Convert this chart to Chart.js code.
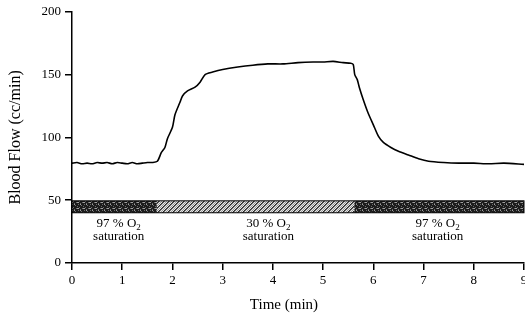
<!DOCTYPE html>
<html><head><meta charset="utf-8">
<script src="https://cdn.jsdelivr.net/npm/chart.js@4"></script>
<style>html,body{margin:0;padding:0;background:#fff}#c{display:block}</style>
</head><body>
<canvas id="c" width="525" height="317"></canvas>
<script>
// ---- data ----
const timeMin = [0,0.1,0.2,0.3,0.4,0.5,0.6,0.7,0.8,0.9,1.0,1.1,1.2,1.3,1.4,1.5,1.6,1.7,1.78,1.85,1.9,2.0,2.05,2.15,2.2,2.3,2.45,2.55,2.65,2.8,3.0,3.3,3.6,3.9,4.2,4.5,4.8,5.0,5.2,5.4,5.55,5.6,5.63,5.68,5.72,5.8,5.9,6.0,6.1,6.2,6.35,6.5,6.7,6.9,7.1,7.4,7.7,8.0,8.3,8.6,9.0];
const bloodFlow = [79.5,80,79,79.5,79,80,79.5,80,79,80,79.5,79,80,79,79.5,80,80,81,88,92,99,108,118,128,133,137,140,144,150,152,154,156,157.5,158.5,158.5,159.5,160,160,160.5,159.5,159,158,150,146,140,130,119,110,101,96,92,89,86,83,81,80,79.5,79.5,79,79.5,78.5];
const xTicks = [0,1,2,3,4,5,6,7,8,9];
const yTicks = [0,50,100,150,200];
const segStart = [0,1.69,5.62];
const segEnd = [1.69,5.62,9];
const segTop = 49.5;
const segBottom = 40;
const segPercent = ["97 %","30 %","97 %"];
const segLabelX = [0.93,3.91,7.28];
const segLabelY = [31,21];   // rows: "xx % O2", "saturation"
const xTitle = "Time (min)";
const yTitle = "Blood Flow (cc/min)";

// ---- patterns ----
function makeDark(g0){
  const c=document.createElement('canvas');c.width=6;c.height=6;const g=c.getContext('2d');
  g.fillStyle='#1c1c1c';g.fillRect(0,0,6,6);
  g.fillStyle='#6a6a6a';
  [[0,0],[3,1],[1,3],[4,4],[2,5],[5,2]].forEach(p=>g.fillRect(p[0],p[1],1,1));
  g.fillStyle='#a0a0a0';
  [[2,0],[5,4],[0,4]].forEach(p=>g.fillRect(p[0],p[1],1,1));
  return g0.createPattern(c,'repeat');
}
function makeHatch(g0){
  const c=document.createElement('canvas');c.width=5;c.height=5;const g=c.getContext('2d');
  g.fillStyle='#e6e6e6';g.fillRect(0,0,5,5);
  for(let i=0;i<5;i++){
    g.fillStyle='#2a2a2a';g.fillRect((4-i+5)%5,i,1,1);
    g.fillStyle='#6e6e6e';g.fillRect((5-i+5)%5,i,1,1);
    g.fillStyle='#9a9a9a';g.fillRect((7-i+5)%5,i,1,1);
  }
  return g0.createPattern(c,'repeat');
}

const serif='"Liberation Serif", "Times New Roman", serif';

const barPlugin={
  id:'oxyBar',
  beforeDatasetsDraw(chart){
    const g=chart.ctx, xs=chart.scales.x, ys=chart.scales.y;
    const pats=[makeDark(g),makeHatch(g),makeDark(g)];
    const yT=ys.getPixelForValue(segTop), yB=ys.getPixelForValue(segBottom);
    g.save();
    segStart.forEach((s,i)=>{
      const x1=xs.getPixelForValue(s), x2=xs.getPixelForValue(segEnd[i]);
      g.fillStyle=pats[i];
      g.fillRect(x1,yT,x2-x1,yB-yT);
    });
    g.strokeStyle='#000';g.lineWidth=1;
    const xa=xs.getPixelForValue(segStart[0]), xb=xs.getPixelForValue(segEnd[segEnd.length-1]);
    g.strokeRect(xa,yT,xb-xa,yB-yT);
    g.restore();
  },
  afterDatasetsDraw(chart){
    const g=chart.ctx, xs=chart.scales.x, ys=chart.scales.y;
    g.save();
    g.fillStyle='#000';
    g.textBaseline='middle';
    segPercent.forEach((p,i)=>{
      const cx=xs.getPixelForValue(segLabelX[i]);
      const y1=ys.getPixelForValue(segLabelY[0]);
      const y2=ys.getPixelForValue(segLabelY[1]);
      g.font='13px '+serif;
      const main=p+' O';
      const w1=g.measureText(main).width;
      g.font='9px '+serif;
      const w2=g.measureText('2').width;
      const x0=cx-(w1+w2)/2;
      g.font='13px '+serif;
      g.textAlign='left';
      g.fillText(main,x0,y1);
      g.font='9px '+serif;
      g.fillText('2',x0+w1,y1+4);
      g.font='13px '+serif;
      g.textAlign='center';
      g.fillText('saturation',cx,y2);
    });
    g.font='15px '+serif;
    g.textAlign='center';
    g.fillText(xTitle, xs.getPixelForValue(4.22), 305);
    g.restore();
  }
};

new Chart(document.getElementById('c'),{
  type:'line',
  data:{datasets:[
    {data:timeMin.map((t,i)=>({x:t,y:bloodFlow[i]})),borderColor:'#000',borderWidth:1.6,pointRadius:0,tension:0.25,fill:false}
  ]},
  options:{
    responsive:false,animation:false,
    layout:{padding:{top:9,right:1,left:0,bottom:0}},
    plugins:{legend:{display:false},tooltip:{enabled:false}},
    scales:{
      x:{type:'linear',min:0,max:9,
        afterBuildTicks(s){s.ticks=xTicks.map(v=>({value:v}));},
        afterFit(s){s.height=54;s.paddingLeft=0;s.paddingRight=0;},
        grid:{drawOnChartArea:false,drawTicks:true,tickLength:7,color:'#000',lineWidth:1.5},
        border:{display:true,color:'#000',width:1.5},
        ticks:{color:'#000',font:{family:serif,size:13},padding:3,maxRotation:0}
      },
      y:{type:'linear',min:0,max:200,
        afterBuildTicks(s){s.ticks=yTicks.map(v=>({value:v}));},
        afterFit(s){s.width=72;},
        grid:{drawOnChartArea:false,drawTicks:true,tickLength:7,color:'#000',lineWidth:1.5},
        border:{display:true,color:'#000',width:1.5},
        ticks:{color:'#000',font:{family:serif,size:13},padding:4},
        title:{display:true,text:yTitle,color:'#000',font:{family:serif,size:16},padding:{top:6,bottom:0}}
      }
    }
  },
  plugins:[barPlugin]
});
</script>
</body></html>
